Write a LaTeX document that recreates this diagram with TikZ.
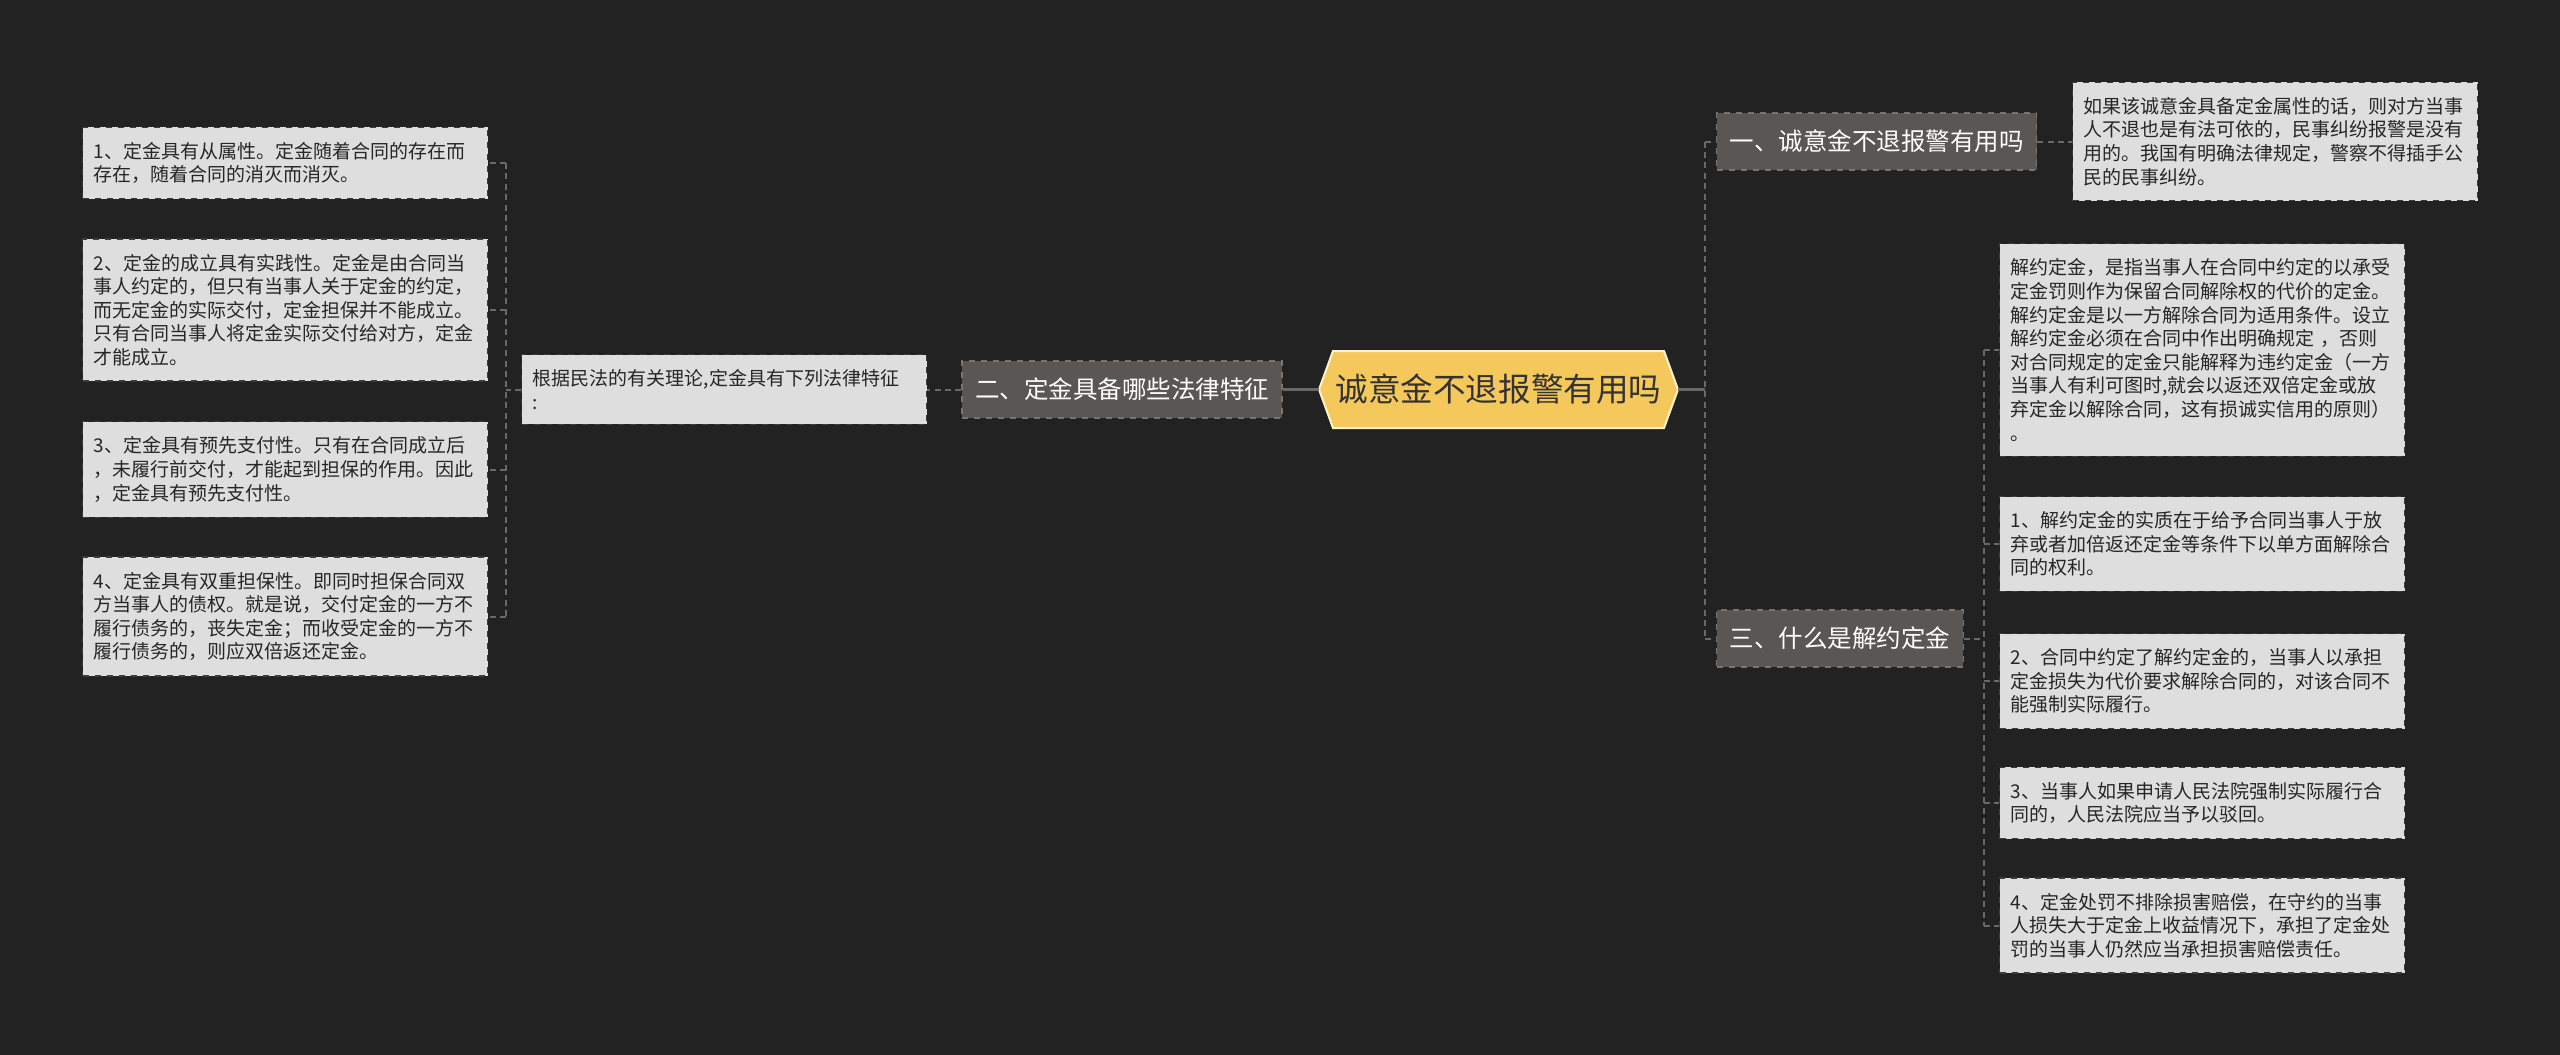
\documentclass[tikz,border=0pt]{standalone}
\usepackage{fontspec}
\setmainfont{Noto Sans CJK SC}
\usetikzlibrary{positioning}
\definecolor{mapbg}{RGB}{34,34,34}
\definecolor{leaffill}{RGB}{222,222,222}
\definecolor{leafline}{RGB}{60,60,60}
\definecolor{branchfill}{RGB}{90,86,83}
\definecolor{branchline}{RGB}{120,116,112}
\definecolor{linkgray}{RGB}{105,105,105}
\definecolor{hexfill}{RGB}{245,200,92}
\definecolor{hexline}{RGB}{253,243,205}
\tikzset{
  leaf/.style={rectangle, draw=leafline, dashed, line width=0.6pt, fill=leaffill,
    text=black!85, text width=191.5pt, align=left, inner xsep=5.5pt, inner ysep=7.5pt,
    font=\fontsize{9.5}{11.8}\selectfont},
  branch/.style={rectangle, draw=branchline, dashed, line width=0.6pt, fill=branchfill,
    text=white, minimum height=28.5pt, inner xsep=6.5pt, font=\fontsize{12.25}{14}\selectfont},
  hexnode/.style={minimum width=179.5pt, minimum height=38.5pt, inner sep=0pt,
    text=black!80, font=\fontsize{16.3}{18}\selectfont},
  link/.style={draw=linkgray, line width=1pt, dash pattern=on 3pt off 2.2pt},
  trunk/.style={draw=linkgray, line width=1.2pt},
}
\begin{document}
\begin{tikzpicture}[x=0.5pt, y=-0.5pt]
    \fill[mapbg] (0,0) rectangle (2560,1055);
    \useasboundingbox (0,0) rectangle (2560,1055);
    \filldraw[fill=hexfill, draw=hexline, line width=1pt] (1319,389.5) -- ++(14,-38.5) -- ++(331,0) -- ++(14,38.5) -- ++(-14,38.5) -- ++(-331,0) -- cycle;
    \node[hexnode](ctr) at (1498.5,389.5){诚意金不退报警有用吗};
    \node[branch,left=18pt of ctr](q2){二、定金具备哪些法律特征};
    \node[leaf,left=17pt of q2](basis){根据民法的有关理论,定金具有下列法律特征\\:};
    \node[leaf,anchor=west](f1) at (82,163){1、定金具有从属性。定金随着合同的存在而\\存在，随着合同的消灭而消灭。};
    \node[leaf,anchor=west](f2) at (82,310){2、定金的成立具有实践性。定金是由合同当\\事人约定的，但只有当事人关于定金的约定，\\而无定金的实际交付，定金担保并不能成立。\\只有合同当事人将定金实际交付给对方，定金\\才能成立。};
    \node[leaf,anchor=west](f3) at (82,469.5){3、定金具有预先支付性。只有在合同成立后\\，未履行前交付，才能起到担保的作用。因此\\，定金具有预先支付性。};
    \node[leaf,anchor=west](f4) at (82,616.5){4、定金具有双重担保性。即同时担保合同双\\方当事人的债权。就是说，交付定金的一方不\\履行债务的，丧失定金；而收受定金的一方不\\履行债务的，则应双倍返还定金。};
    \node[branch,anchor=west](q1) at (1716,141.5){一、诚意金不退报警有用吗};
    \node[leaf,right=17.5pt of q1](ans1){如果该诚意金具备定金属性的话，则对方当事\\人不退也是有法可依的，民事纠纷报警是没有\\用的。我国有明确法律规定，警察不得插手公\\民的民事纠纷。};
    \node[branch,anchor=west](q3) at (1716,638.5){三、什么是解约定金};
    \node[leaf,anchor=west](rdef) at (1999,350){解约定金，是指当事人在合同中约定的以承受\\定金罚则作为保留合同解除权的代价的定金。\\解约定金是以一方解除合同为适用条件。设立\\解约定金必须在合同中作出明确规定 ，否则\\对合同规定的定金只能解释为违约定金（一方\\当事人有利可图时,就会以返还双倍定金或放\\弃定金以解除合同，这有损诚实信用的原则）\\。};
    \node[leaf,anchor=west](r1) at (1999,544){1、解约定金的实质在于给予合同当事人于放\\弃或者加倍返还定金等条件下以单方面解除合\\同的权利。};
    \node[leaf,anchor=west](r2) at (1999,681){2、合同中约定了解约定金的，当事人以承担\\定金损失为代价要求解除合同的，对该合同不\\能强制实际履行。};
    \node[leaf,anchor=west](r3) at (1999,803){3、当事人如果申请人民法院强制实际履行合\\同的，人民法院应当予以驳回。};
    \node[leaf,anchor=west](r4) at (1999,925.5){4、定金处罚不排除损害赔偿，在守约的当事\\人损失大于定金上收益情况下，承担了定金处\\罚的当事人仍然应当承担损害赔偿责任。};
    \draw[trunk](ctr.west)--(q2.east);
    \draw[link](q2.west)--(basis.east);
    \draw[link](basis.west)--++(-15,0) coordinate(lsp);
    \draw[link](lsp |- f1.east)--(lsp |- f4.east);
    \foreach \n in {f1,f2,f3,f4} \draw[link](lsp |- \n.east)--(\n.east);
    \draw[trunk](ctr.east)--++(27,0) coordinate(rsp);
    \draw[link](rsp |- q1.west)--(rsp |- q3.west);
    \foreach \n in {q1,q3} \draw[link](rsp |- \n.west)--(\n.west);
    \draw[link](q1.east)--(ans1.west);
    \draw[link](q3.east)--++(20,0) coordinate(ssp);
    \draw[link](ssp |- rdef.west)--(ssp |- r4.west);
    \foreach \n in {rdef,r1,r2,r3,r4} \draw[link](ssp |- \n.west)--(\n.west);
  \end{tikzpicture}
\end{document}
